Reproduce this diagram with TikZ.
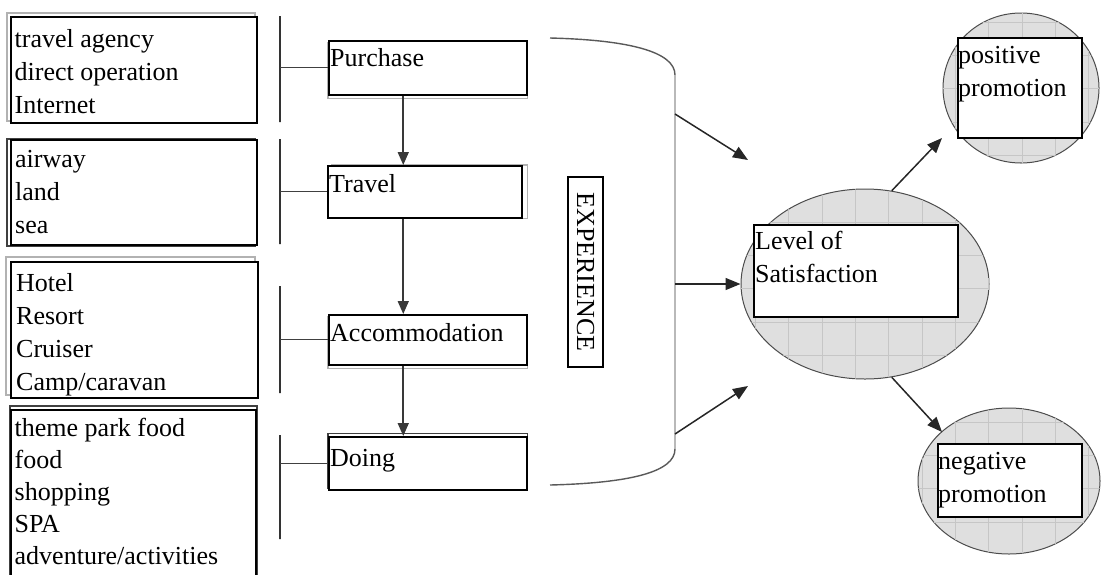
\documentclass[tikz,border=0pt]{standalone}
\usepackage{fontspec}
\setmainfont{Liberation Serif}
\usetikzlibrary{arrows.meta,shapes.geometric}
\pgfdeclarelayer{background}
\pgfsetlayers{background,main}
% light grid laid over the shaded ovals (call inside a clipping scope)
\newcommand\ovalgrid{%
  \foreach \k in {0,...,33} {\draw[gridline] ({22+33.33*\k},0) -- ({22+33.33*\k},574);}%
  \foreach \k in {0,...,17} {\draw[gridline] (0,{22+33.33*\k}) -- (1105,{22+33.33*\k});}}

\begin{document}
\begin{tikzpicture}[x=1pt, y=-1pt,
  every node/.style={font=\fontsize{26}{33}\selectfont},
  listbox/.style={draw=black, line width=1.8pt, fill=white, anchor=north west, inner sep=0pt},
  stepbox/.style={draw=black, line width=1.5pt, fill=white, anchor=north west, inner sep=0pt},
  labelbox/.style={draw=black, line width=1.5pt, fill=white, anchor=north west, inner sep=0pt},
  txt/.style={anchor=north west, align=left, inner sep=0pt},
  ghost/.style={draw=gray!60, line width=1.6pt},
  ghostdark/.style={draw=black!75, line width=1.4pt},
  bar/.style={draw=black!80, line width=1.8pt, inner sep=0pt, minimum width=0pt},
  link/.style={draw=black!75, line width=1.4pt},
  flow/.style={draw=gray!45!black, line width=1.6pt, -{Triangle[length=13pt,width=11pt]}},
  arr/.style={draw=black!85, line width=1.5pt, -{Triangle[length=15pt,width=12pt]}},
  oval/.style={ellipse, draw=black!70, line width=1pt, fill=gray!25, inner sep=0pt},
  gridline/.style={draw=gray!45, line width=0.8pt},
  brk/.style={draw=black!65, line width=1.4pt},
  brkside/.style={draw=gray!55, line width=2pt}
]
\useasboundingbox (0,0) rectangle (1105,574);

% ---- shaded ovals with grid ----
\node[oval, minimum width=248pt, minimum height=190pt] (sat) at (865,284) {};
\node[oval, minimum width=156pt, minimum height=150pt] (pos) at (1021,88) {};
\node[oval, minimum width=182pt, minimum height=146pt] (neg) at (1009,481) {};
\begin{scope}
  \clip (sat.center) ellipse [x radius=124, y radius=95];
  \ovalgrid
\end{scope}
\begin{scope}
  \clip (pos.center) ellipse [x radius=78, y radius=75];
  \ovalgrid
\end{scope}
\begin{scope}
  \clip (neg.center) ellipse [x radius=91, y radius=73];
  \ovalgrid
\end{scope}

% ---- option lists ----
\node[listbox, minimum width=246pt, minimum height=106pt] (l1) at (10,16) {};
\node[listbox, minimum width=246pt, minimum height=105pt] (l2) at (10,139) {};
\node[listbox, minimum width=247pt, minimum height=136pt] (l3) at (10,261) {};
\node[listbox, minimum width=245pt, minimum height=200pt] (l4) at (10,409) {};
\node[txt] (l1t) at ([shift={(4.5,8)}]l1.north west) {\strut travel agency\\direct operation\\Internet};
\node[txt] (l2t) at ([shift={(5,5.5)}]l2.north west) {\strut airway\\land\\sea};
\node[txt] (l3t) at ([shift={(6,7)}]l3.north west) {\strut Hotel\\Resort\\Cruiser\\Camp/caravan};
\node[txt, font=\fontsize{26}{32}\selectfont] (l4t) at ([shift={(4.5,5)}]l4.north west) {\strut theme park food\\food\\shopping\\SPA\\adventure/activities};

% ---- separator bars ----
\node[bar, minimum height=106pt] (b1) at (280,69) {};
\node[bar, minimum height=105pt] (b2) at (280,191.5) {};
\node[bar, minimum height=107pt] (b3) at (280,339.5) {};
\node[bar, minimum height=104pt] (b4) at (280,487) {};

% ---- stages ----
\node[stepbox, minimum width=198pt, minimum height=54pt] (purchase) at (328,40) {};
\node[stepbox, minimum width=194pt, minimum height=52pt] (travel) at (327,165) {};
\node[stepbox, minimum width=198pt, minimum height=50pt] (accom) at (328,314) {};
\node[stepbox, minimum width=198pt, minimum height=53pt] (doing) at (328,436) {};
\node[txt] (purchaset) at ([shift={(2,3)}]purchase.north west) {\strut Purchase};
\node[txt] (travelt) at ([shift={(2,4.5)}]travel.north west) {\strut Travel};
\node[txt] (accomt) at ([shift={(2,4)}]accom.north west) {\strut Accommodation};
\node[txt] (doingt) at ([shift={(2,7)}]doing.north west) {\strut Doing};

% ---- offset edges behind the boxes ----
\begin{pgfonlayer}{background}
  \draw[ghost] ([shift={(-3,-3)}]l1.north west) rectangle ([shift={(-3,-3)}]l1.south east);
  \draw[ghostdark] ([shift={(-3,0)}]l2.north west) rectangle ([shift={(-3,0)}]l2.south east);
  \draw[ghost] ([shift={(-4,-4)}]l3.north west) rectangle ([shift={(-4,-4)}]l3.south east);
  \draw[ghostdark] ([shift={(0,-3)}]l4.north west) rectangle ([shift={(0,-3)}]l4.south east);
  \draw[ghost] ([shift={(0,3)}]purchase.north west) rectangle ([shift={(0,3)}]purchase.south east);
  \draw[ghost] ([shift={(5,0)}]travel.north west) rectangle ([shift={(5,0)}]travel.south east);
  \draw[ghost] ([shift={(0,3)}]accom.north west) rectangle ([shift={(0,3)}]accom.south east);
  \draw[ghostdark] ([shift={(0,-2.5)}]doing.north west) rectangle ([shift={(0,-2.5)}]doing.south east);
\end{pgfonlayer}

% ---- bar-to-stage links and stage flow ----
\draw[link] (b1 |- purchase.west) -- (purchase.west);
\draw[link] (b2 |- travel.west) -- (travel.west);
\draw[link] (b3 |- accom.west) -- (accom.west);
\draw[link] (b4 |- doing.west) -- (doing.west);
\draw[flow] ([xshift=-24.5pt]purchase.south) -- ([xshift=-24.5pt]purchase.south |- travel.north);
\draw[flow] ([xshift=-24.5pt]purchase.south |- travel.south) -- ([xshift=-24.5pt]purchase.south |- accom.north);
\draw[flow] ([xshift=-24.5pt]purchase.south |- accom.south) -- ([xshift=-24.5pt]purchase.south |- doing.north);

% ---- experience bracket ----
\node[draw=black, line width=1.2pt, rotate=-90, minimum width=190pt, minimum height=35pt, inner sep=0pt] (exp) at (585.5,272) {EXPERIENCE};
\draw[brk] (550,38) .. controls (630,40) and (675,52) .. (675,75);
\draw[brkside] (675,75) -- (675,449);
\draw[brk] (675,449) .. controls (675,472) and (630,483) .. (550,485);

\coordinate (e1) at (675,114);
\coordinate (e1t) at (748,160);
\coordinate (e2) at (675,284);
\coordinate (e3) at (675,434);
\coordinate (e3t) at (748,386);
\coordinate (pt) at (942,138);
\coordinate (nt) at (942,432);
\draw[arr] (e1) -- (e1t);
\draw[arr] (e2) -- (sat.west);
\draw[arr] (e3) -- (e3t);
\draw[arr] (sat.74) -- (pt);
\draw[arr] (sat.-74) -- (nt);

% ---- outcome labels ----
\node[labelbox, minimum width=204pt, minimum height=92pt] (satb) at (753,224) {};
\node[labelbox, minimum width=124pt, minimum height=100pt] (posb) at (957,37) {};
\node[labelbox, minimum width=144pt, minimum height=73pt] (negb) at (937,443) {};
\node[txt] (satt) at ([shift={(2,2)}]satb.north west) {\strut Level of\\Satisfaction};
\node[txt] (post) at ([shift={(1,3)}]posb.north west) {\strut positive\\promotion};
\node[txt] (negt) at ([shift={(1,3)}]negb.north west) {\strut negative\\promotion};
\end{tikzpicture}
\end{document}
